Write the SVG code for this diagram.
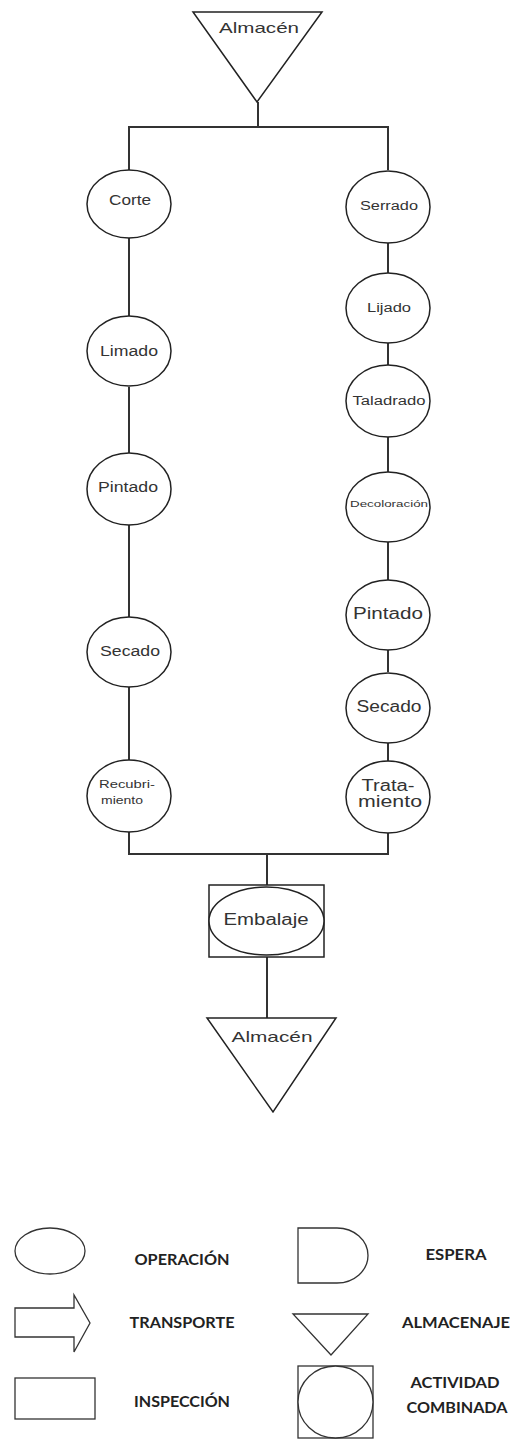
<svg xmlns="http://www.w3.org/2000/svg" width="512" height="1439" viewBox="0 0 512 1439">
<style>
.shape{fill:#fff;stroke:#222;stroke-width:1.5}
.conn{fill:none;stroke:#333;stroke-width:2}
.t{font-family:"Liberation Sans",Arial,sans-serif;fill:#333;text-anchor:middle}
.lg{font-family:Lato,"Liberation Sans",sans-serif;font-weight:bold;fill:#222;font-size:15.5px;text-anchor:middle}
.lshape{fill:#fff;stroke:#333;stroke-width:1.3}
</style>
<rect width="512" height="1439" fill="#fff"/>
<g id="connectors">
<polyline class="conn" points="258,102 258,127"/>
<polyline class="conn" points="129,170 129,127 388,127 388,170"/>
<line class="conn" x1="129" y1="238" x2="129" y2="316"/>
<line class="conn" x1="129" y1="387" x2="129" y2="453"/>
<line class="conn" x1="129" y1="525" x2="129" y2="617"/>
<line class="conn" x1="129" y1="687" x2="129" y2="760"/>
<line class="conn" x1="388" y1="243" x2="388" y2="273"/>
<line class="conn" x1="388" y1="343" x2="388" y2="365"/>
<line class="conn" x1="388" y1="437" x2="388" y2="472"/>
<line class="conn" x1="388" y1="542" x2="388" y2="580"/>
<line class="conn" x1="388" y1="650" x2="388" y2="672"/>
<line class="conn" x1="388" y1="743" x2="388" y2="762"/>
<polyline class="conn" points="129,832 129,854 388,854 388,833"/>
<line class="conn" x1="267" y1="854" x2="267" y2="885"/>
<line class="conn" x1="267" y1="957" x2="267" y2="1018"/>
</g>
<g id="almacen-top">
<polygon class="shape" points="193,12 322,12 257,102"/>
<text class="t" x="259" y="33" font-size="15" textLength="80" lengthAdjust="spacingAndGlyphs">Almacén</text>
</g>
<g id="corte">
<ellipse class="shape" cx="129" cy="204" rx="42" ry="34"/>
<text class="t" x="130" y="205" font-size="14" textLength="42" lengthAdjust="spacingAndGlyphs">Corte</text>
</g>
<g id="limado">
<ellipse class="shape" cx="129" cy="351" rx="42" ry="35"/>
<text class="t" x="129" y="356" font-size="14" textLength="58" lengthAdjust="spacingAndGlyphs">Limado</text>
</g>
<g id="pintado-l">
<ellipse class="shape" cx="129" cy="489" rx="42" ry="36"/>
<text class="t" x="128" y="492" font-size="14" textLength="60" lengthAdjust="spacingAndGlyphs">Pintado</text>
</g>
<g id="secado-l">
<ellipse class="shape" cx="129" cy="652" rx="42" ry="35"/>
<text class="t" x="130" y="656" font-size="14" textLength="60" lengthAdjust="spacingAndGlyphs">Secado</text>
</g>
<g id="recubrimiento">
<ellipse class="shape" cx="129" cy="796" rx="42" ry="36"/>
<text class="t" x="127" y="788" font-size="11" textLength="56" lengthAdjust="spacingAndGlyphs">Recubri-</text>
<text class="t" x="122" y="804" font-size="11" textLength="42" lengthAdjust="spacingAndGlyphs">miento</text>
</g>
<g id="serrado">
<ellipse class="shape" cx="388" cy="207" rx="42" ry="36"/>
<text class="t" x="389" y="210" font-size="12" textLength="58" lengthAdjust="spacingAndGlyphs">Serrado</text>
</g>
<g id="lijado">
<ellipse class="shape" cx="388" cy="308" rx="42" ry="35"/>
<text class="t" x="389" y="312" font-size="12" textLength="44" lengthAdjust="spacingAndGlyphs">Lijado</text>
</g>
<g id="taladrado">
<ellipse class="shape" cx="388" cy="401" rx="42" ry="36"/>
<text class="t" x="389" y="405" font-size="12" textLength="73" lengthAdjust="spacingAndGlyphs">Taladrado</text>
</g>
<g id="decoloracion">
<ellipse class="shape" cx="388" cy="507" rx="42" ry="35"/>
<text class="t" x="389" y="507" font-size="9" textLength="78" lengthAdjust="spacingAndGlyphs">Decoloración</text>
</g>
<g id="pintado-r">
<ellipse class="shape" cx="388" cy="615" rx="42" ry="35"/>
<text class="t" x="388" y="619" font-size="16" textLength="70" lengthAdjust="spacingAndGlyphs">Pintado</text>
</g>
<g id="secado-r">
<ellipse class="shape" cx="388" cy="708" rx="42" ry="35"/>
<text class="t" x="389" y="712" font-size="16" textLength="65" lengthAdjust="spacingAndGlyphs">Secado</text>
</g>
<g id="tratamiento">
<ellipse class="shape" cx="388" cy="797" rx="42" ry="36"/>
<text class="t" x="388" y="791" font-size="16" textLength="53" lengthAdjust="spacingAndGlyphs">Trata-</text>
<text class="t" x="390" y="807" font-size="16" textLength="64" lengthAdjust="spacingAndGlyphs">miento</text>
</g>
<g id="embalaje">
<rect class="shape" x="209" y="885" width="115" height="72"/>
<ellipse class="shape" cx="266.5" cy="921" rx="57.5" ry="34"/>
<text class="t" x="266" y="925" font-size="16" textLength="85" lengthAdjust="spacingAndGlyphs">Embalaje</text>
</g>
<g id="almacen-bottom">
<polygon class="shape" points="207,1018 336,1018 273,1112"/>
<text class="t" x="272" y="1042" font-size="15" textLength="81" lengthAdjust="spacingAndGlyphs">Almacén</text>
</g>
<g id="legend">
<ellipse class="lshape" cx="50" cy="1251" rx="35" ry="23"/>
<text class="lg" x="182" y="1265" textLength="95" lengthAdjust="spacingAndGlyphs">OPERACIÓN</text>
<path class="lshape" d="M298,1228 H337 A31,27.5 0 0 1 337,1283 H298 Z"/>
<text class="lg" x="456" y="1260" textLength="61" lengthAdjust="spacingAndGlyphs">ESPERA</text>
<path class="lshape" d="M15,1308 H74 V1295 L90,1323 L74,1352 V1337 H15 Z"/>
<text class="lg" x="182" y="1328" textLength="105" lengthAdjust="spacingAndGlyphs">TRANSPORTE</text>
<polygon class="lshape" points="293,1314 368,1314 331,1355"/>
<text class="lg" x="456" y="1328" textLength="108" lengthAdjust="spacingAndGlyphs">ALMACENAJE</text>
<rect class="lshape" x="15" y="1378" width="80" height="41"/>
<text class="lg" x="182" y="1407" textLength="96" lengthAdjust="spacingAndGlyphs">INSPECCIÓN</text>
<rect class="lshape" x="298" y="1366" width="75" height="72"/>
<ellipse class="lshape" cx="335.5" cy="1402" rx="37.5" ry="36"/>
<text class="lg" x="455" y="1388" textLength="89" lengthAdjust="spacingAndGlyphs">ACTIVIDAD</text>
<text class="lg" x="457" y="1413" textLength="101" lengthAdjust="spacingAndGlyphs">COMBINADA</text>
</g>
</svg>
